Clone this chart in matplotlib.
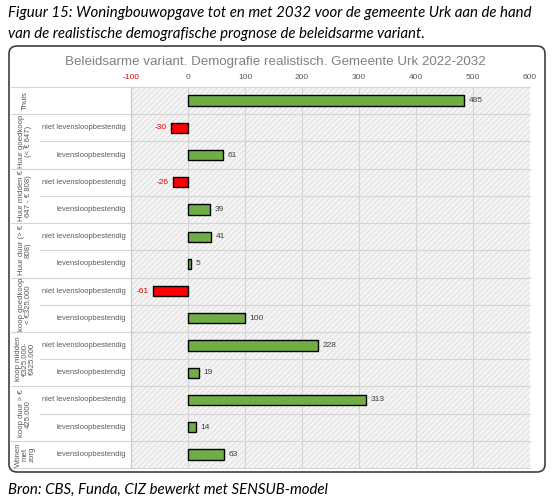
import matplotlib.pyplot as plt
import numpy as np
from matplotlib.patches import FancyBboxPatch, Rectangle

plt.rcParams['font.family'] = ['Liberation Sans', 'DejaVu Sans']
plt.rcParams['hatch.linewidth'] = 0.6
plt.rcParams['axes.unicode_minus'] = False

# data
group_labels = ['Thuis', 'Huur goedkoop\n(< € 647)', 'Huur midden €\n647 - € 808)',
                'Huur duur (> €\n808)', 'koop goedkoop\n< €325.000',
                'koop midden\n€325.000-\n€425.000', 'koop duur > €\n425.000', 'Wonen\nmet\nzorg']
group_sizes = [1, 2, 2, 2, 2, 2, 2, 1]
row_labels = ['', 'niet levensloopbestendig', 'levensloopbestendig',
              'niet levensloopbestendig', 'levensloopbestendig',
              'niet levensloopbestendig', 'levensloopbestendig',
              'niet levensloopbestendig', 'levensloopbestendig',
              'niet levensloopbestendig', 'levensloopbestendig',
              'niet levensloopbestendig', 'levensloopbestendig',
              'levensloopbestendig']
values = [485, -30, 61, -26, 39, 41, 5, -61, 100, 228, 19, 313, 14, 63]
xticks = [-100, 0, 100, 200, 300, 400, 500, 600]

W, H = 552, 503
fig = plt.figure(figsize=(W / 100, H / 100), dpi=100)

# captions
cap = dict(fontsize=10.8, style='italic', family=['Lato', 'DejaVu Sans'], va='center', ha='left')
fig.text(8 / W, 1 - 13 / H, 'Figuur 15: Woningbouwopgave tot en met 2032 voor de gemeente Urk aan de hand', **cap)
fig.text(8 / W, 1 - 34 / H, 'van de realistische demografische prognose de beleidsarme variant.', **cap)
fig.text(8 / W, 1 - 490 / H, 'Bron: CBS, Funda, CIZ bewerkt met SENSUB-model', **cap)

# chart frame
box = FancyBboxPatch((9 / W, 1 - 472 / H), 536 / W, 426 / H,
                     boxstyle='round,pad=0,rounding_size=0.015', transform=fig.transFigure,
                     facecolor='white', edgecolor='#404040', linewidth=1.2, zorder=-5)
fig.patches.append(box)
fig.text(275 / W, 1 - 62 / H, 'Beleidsarme variant. Demografie realistisch. Gemeente Urk 2022-2032',
         fontsize=9.6, color='#808080', ha='center', va='center')

ax = fig.add_axes([131 / W, 1 - 468 / H, 399 / W, 381 / H])
ax.patch.set_alpha(0)
n = len(values)
y = np.arange(n)
ax.set_xlim(-100, 600)
ax.set_ylim(n - 0.5, -0.5)
ax.add_patch(Rectangle((0, 0), 1, 1, transform=ax.transAxes, facecolor='#f4f4f4',
                       hatch='//////', edgecolor='#dcdcdc', linewidth=0, zorder=0))
for xt in xticks:
    ax.axvline(xt, color='#d4d4d4', linewidth=0.8, zorder=1)

colors = ['#70ad47' if v >= 0 else '#ff0000' for v in values]
ax.barh(y, values, height=0.38, color=colors, edgecolor='black', linewidth=1.0, zorder=3)

for yi, v in zip(y, values):
    if v >= 0:
        ax.text(v + 8, yi, str(v), fontsize=6, color='#404040', va='center', ha='left', zorder=4)
    else:
        ax.text(v - 8, yi, str(v), fontsize=6, color='#e00000', va='center', ha='right', zorder=4)

# row / group labels and separators
tr = ax.get_yaxis_transform()
x_outer = (11 - 131) / 399
x_inner = (40 - 131) / 399
start = 0
bounds = [-0.5]
for g, size in zip(group_labels, group_sizes):
    mid = start + (size - 1) / 2
    ax.text((25 - 131) / 399, mid, g, rotation=90, fontsize=5.6, color='#595959',
            ha='center', va='center', transform=tr, linespacing=1.0, multialignment='center')
    for k in range(1, size):
        ax.plot([x_inner, 1], [start + k - 0.5] * 2, color='#d4d4d4', lw=0.8,
                transform=tr, clip_on=False, zorder=2)
    start += size
    bounds.append(start - 0.5)
for b in bounds:
    ax.plot([x_outer, 1], [b, b], color='#d4d4d4', lw=0.8, transform=tr, clip_on=False, zorder=2)

for yi, lab in zip(y, row_labels):
    ax.text(-0.013, yi, lab, fontsize=5.4, color='#595959', ha='right', va='center', transform=tr)

ax.set_yticks([])
ax.set_xticks(xticks)
ax.xaxis.tick_top()
ax.tick_params(axis='x', length=0, labelsize=6, labelcolor='#595959', pad=4)
ax.get_xticklabels()[0].set_color('#e00000')
for s in ax.spines.values():
    s.set_visible(False)
ax.spines['left'].set_visible(True)
ax.spines['left'].set_color('#c8c8c8')

plt.savefig('out.png', dpi=100)
